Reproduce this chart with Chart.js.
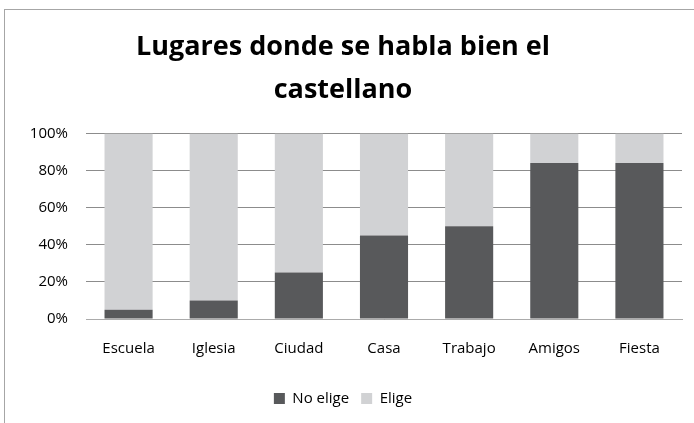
<!DOCTYPE html>
<html>
<head>
<meta charset="utf-8">
<script src="https://cdn.jsdelivr.net/npm/chart.js@4/dist/chart.umd.min.js"></script>
<style>
  html, body { margin: 0; padding: 0; background: #fff; }
  #wrap { width: 694px; height: 423px; }
</style>
</head>
<body>
<div id="wrap"><canvas id="chart" width="694" height="423"></canvas></div>
<script>
const lugares = ['Escuela', 'Iglesia', 'Ciudad', 'Casa', 'Trabajo', 'Amigos', 'Fiesta'];
const noElige = [5, 10, 25, 45, 50, 84, 84];
const elige = [95, 90, 75, 55, 50, 16, 16];
const yTicks = [0, 20, 40, 60, 80, 100];

const fontFam = '"Open Sans", Lato, sans-serif';

// gray frame like the original office chart box
const frame = {
  id: 'frame',
  beforeDraw(chart) {
    const c = chart.ctx;
    c.save();
    c.strokeStyle = '#a6a6a6';
    c.lineWidth = 1;
    c.strokeRect(4.5, 9.5, 800, 600);
    c.restore();
  }
};

let ctx = document.getElementById('chart').getContext('2d');
let myChart = new Chart(ctx, {
  type: 'bar',
  data: {
    labels: lugares,
    datasets: [
      { label: 'No elige', data: noElige, backgroundColor: '#58595b', borderWidth: 0 },
      { label: 'Elige', data: elige, backgroundColor: '#d1d2d4', borderWidth: 0 }
    ]
  },
  options: {
    responsive: false,
    animation: false,
    layout: { padding: { left: 4, right: 12, top: 26, bottom: 7 } },
    datasets: { bar: { barPercentage: 0.565, categoryPercentage: 1 } },
    plugins: {
      title: {
        display: true,
        text: ['Lugares donde se habla bien el', 'castellano'],
        color: '#000',
        font: { family: fontFam, size: 27, weight: 'bold', lineHeight: 1.6 },
        padding: { top: 0, bottom: 21 }
      },
      legend: {
        position: 'bottom',
        labels: {
          color: '#000',
          font: { family: fontFam, size: 15 },
          boxWidth: 11,
          boxHeight: 11,
          padding: 12
        }
      },
      tooltip: { enabled: false }
    },
    scales: {
      x: {
        stacked: true,
        grid: { display: false, drawTicks: false },
        border: { color: '#ababab' },
        ticks: { color: '#000', font: { family: fontFam, size: 15 }, padding: 21 }
      },
      y: {
        stacked: true,
        min: 0,
        max: 100,
        afterBuildTicks(scale) { scale.ticks = yTicks.map(v => ({ value: v })); },
        afterFit(scale) { scale.width = 82; },
        grid: { color: '#8c8c8c', drawTicks: false },
        border: { display: false },
        ticks: {
          color: '#000',
          font: { family: fontFam, size: 15 },
          padding: 18,
          callback: v => v + '%'
        }
      }
    }
  },
  plugins: [frame]
});
</script>
</body>
</html>
